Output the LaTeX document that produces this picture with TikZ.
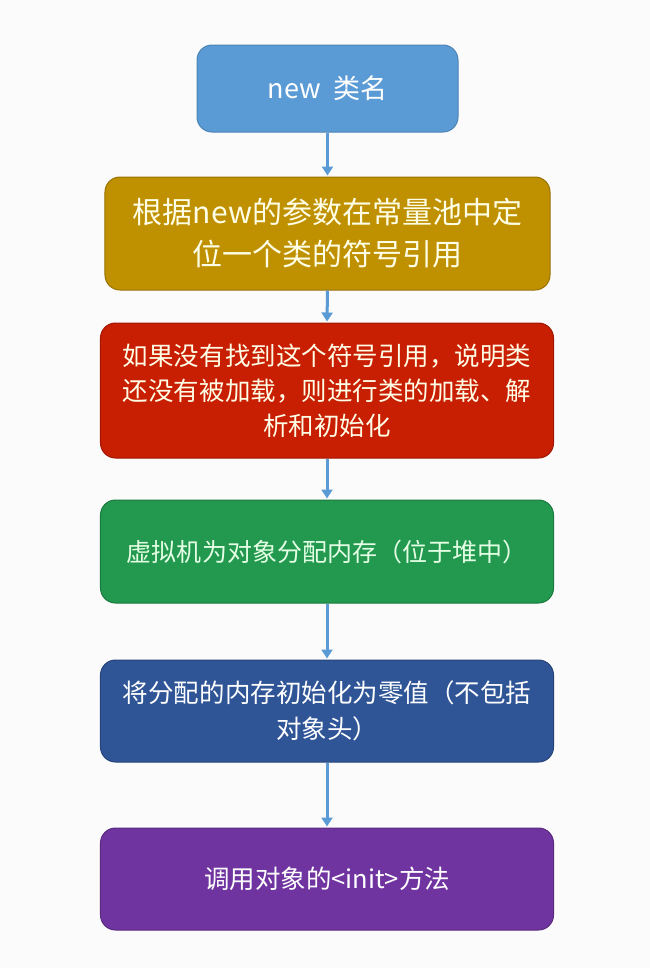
\documentclass[tikz,border=0pt]{standalone}
\usepackage{fontspec}
\setmainfont{Noto Sans CJK SC}
\usetikzlibrary{arrows.meta}
\definecolor{bgc}{HTML}{FBFBFB}
\definecolor{c1}{HTML}{5B9BD5}
\definecolor{c2}{HTML}{BF9000}
\definecolor{c3}{HTML}{C81E02}
\definecolor{c4}{HTML}{22994F}
\definecolor{c5}{HTML}{2F5597}
\definecolor{c6}{HTML}{7034A0}
\definecolor{arr}{HTML}{5B9BD5}
\tikzset{
  stepbox/.style={rounded corners=15bp, align=center, text=white, inner sep=0pt, line width=1bp},
  flow/.style={draw=arr, line width=3bp, -{Triangle[width=11bp,length=9bp]}, shorten >=1bp}
}
\begin{document}
\begin{tikzpicture}[x=1bp,y=-1bp]
\fill[bgc] (0,0) rectangle (650,968);
\useasboundingbox (0,0) rectangle (650,968);
\node[stepbox, fill=c1, draw=c1!85!black, minimum width=261bp, minimum height=87bp, font=\fontsize{27bp}{34bp}\selectfont] (b1) at (327.5,88.5)
  {new\ \ 类名};
\node[stepbox, fill=c2, draw=c2!80!black, minimum width=445bp, minimum height=113bp, text=white!90!yellow, font=\fontsize{30bp}{42bp}\selectfont] (b2) at (327.5,233.5)
  {根据new的参数在常量池中定\\位一个类的符号引用};
\node[stepbox, fill=c3, draw=c3!80!black, minimum width=453bp, minimum height=135bp, text=white!90!yellow, font=\fontsize{25.5bp}{35bp}\selectfont] (b3) at (327,390.5)
  {如果没有找到这个符号引用，说明类\\还没有被加载，则进行类的加载、解\\析和初始化};
\node[stepbox, fill=c4, draw=c4!80!black, minimum width=453bp, minimum height=103bp, text=white!90!green, font=\fontsize{25bp}{34bp}\selectfont] (b4) at (327,551.5)
  {虚拟机为对象分配内存（位于堆中）};
\node[stepbox, fill=c5, draw=c5!80!black, minimum width=453bp, minimum height=102bp, font=\fontsize{25.5bp}{36bp}\selectfont] (b5) at (327,711)
  {将分配的内存初始化为零值（不包括\\对象头）};
\node[stepbox, fill=c6, draw=c6!80!black, minimum width=453bp, minimum height=102bp, font=\fontsize{25.5bp}{35bp}\selectfont] (b6) at (327,879)
  {调用对象的<init>方法};
\draw[flow] (b1.south) -- (b2.north);
\draw[flow] (b2.south) -- (b3.north);
\draw[flow] (b3.south) -- (b4.north);
\draw[flow] (b4.south) -- (b5.north);
\draw[flow] (b5.south) -- (b6.north);
\end{tikzpicture}
\end{document}
